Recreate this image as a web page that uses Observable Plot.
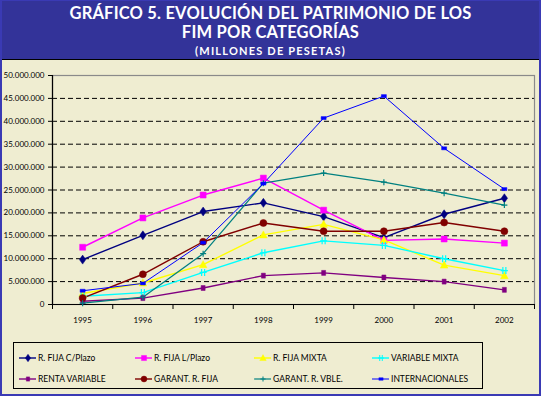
<!DOCTYPE html>
<html><head><meta charset="utf-8">
<script src="https://cdn.jsdelivr.net/npm/d3@7"></script>
<script src="https://cdn.jsdelivr.net/npm/@observablehq/plot@0.6"></script>
<style>
html,body{margin:0;padding:0;background:#fff;}
#card{position:relative;width:541px;height:396px;background:#EFEDD1;overflow:hidden;font-family:Lato,"DejaVu Sans",sans-serif;}
#title{position:absolute;left:0;top:0;width:541px;height:59px;background:#333399;border-bottom:1px solid #000;color:#fff;font-weight:bold;}
#title div{position:absolute;left:0;width:541px;text-align:center;line-height:1;}
#t1{top:5px;font-size:16.5px;letter-spacing:0.2px;}
#t2{top:24px;font-size:16.5px;letter-spacing:0.2px;}
#t3{top:45px;font-size:11px;letter-spacing:1.2px;}
#chart{position:absolute;left:0;top:60px;}
#legend{position:absolute;left:13px;top:342px;width:470px;height:47px;box-sizing:border-box;border:1px solid #000;}
#frame{position:absolute;left:0;top:0;width:541px;height:396px;box-sizing:border-box;border:2px solid #3a3ab4;border-top-width:1px;pointer-events:none;}
</style></head>
<body>
<div id="card">
  <div id="title">
    <div id="t1">GRÁFICO 5. EVOLUCIÓN DEL PATRIMONIO DE LOS</div>
    <div id="t2">FIM POR CATEGORÍAS</div>
    <div id="t3">(MILLONES DE PESETAS)</div>
  </div>
  <div id="chart"></div>
  <div id="legend"></div>
  <div id="frame"></div>
</div>
<script>
// ---- data ----
const years = [1995, 1996, 1997, 1998, 1999, 2000, 2001, 2002];
const seriesNames = ["R. FIJA C/Plazo", "R. FIJA L/Plazo", "R. FIJA MIXTA", "VARIABLE MIXTA",
                     "RENTA VARIABLE", "GARANT. R. FIJA", "GARANT. R. VBLE.", "INTERNACIONALES"];
const rFijaCPlazo    = [9800000, 15100000, 20300000, 22200000, 19200000, 14600000, 19700000, 23200000];
const rFijaLPlazo    = [12500000, 18900000, 23900000, 27600000, 20600000, 14000000, 14300000, 13400000];
const rFijaMixta     = [2400000, 4700000, 8700000, 15200000, 17500000, 14100000, 8600000, 6300000];
const variableMixta  = [1800000, 2600000, 7000000, 11300000, 13900000, 12900000, 10000000, 7400000];
const rentaVariable  = [700000, 1400000, 3600000, 6300000, 6900000, 5900000, 5000000, 3200000];
const garantRFija    = [1400000, 6600000, 13700000, 17800000, 16000000, 16000000, 17900000, 16000000];
const garantRVble    = [300000, 1600000, 11100000, 26500000, 28700000, 26700000, 24300000, 21700000];
const internacionales= [3000000, 4600000, 13500000, 26400000, 40700000, 45500000, 34100000, 25200000];
const yTicks = [0, 5000000, 10000000, 15000000, 20000000, 25000000, 30000000, 35000000, 40000000, 45000000, 50000000];

const seriesValues = [rFijaCPlazo, rFijaLPlazo, rFijaMixta, variableMixta, rentaVariable, garantRFija, garantRVble, internacionales];

// ---- styles ----
const dashSym = {draw(c){ c.rect(-2.5,-1.5,5,3); }};
const rectSym = {draw(c){ c.rect(-2,-2.5,4,5); }};
const dblSym  = {draw(c){ c.moveTo(-1.5,-3.5); c.lineTo(-1.5,3.5); c.moveTo(1.5,-3.5); c.lineTo(1.5,3.5); c.moveTo(-3.5,0); c.lineTo(3.5,0); }};
const plusSym = {draw(c){ c.moveTo(-3,0); c.lineTo(3,0); c.moveTo(0,-3); c.lineTo(0,3); }};
const diaSym  = {draw(c){ c.moveTo(0,-4.5); c.lineTo(3.2,0); c.lineTo(0,4.5); c.lineTo(-3.2,0); c.closePath(); }};
const sqSym   = {draw(c){ c.rect(-3,-3,6,6); }};
const triSym  = {draw(c){ c.moveTo(0,-4); c.lineTo(3.8,3); c.lineTo(-3.8,3); c.closePath(); }};
const circSym = {draw(c){ c.moveTo(3.5,0); c.arc(0,0,3.5,0,2*Math.PI); }};

const styles = [
  {color:"#000080", width:1.4, sym:diaSym, filled:true},
  {color:"#FF00FF", width:1.4, sym:sqSym, filled:true},
  {color:"#FFFF00", width:1.4, sym:triSym, filled:true},
  {color:"#00FFFF", width:1.4, sym:dblSym, filled:false},
  {color:"#800080", width:1.4, sym:rectSym, filled:true},
  {color:"#800000", width:1.4, sym:circSym, filled:true},
  {color:"#008080", width:1.2, sym:plusSym, filled:false},
  {color:"#0000FF", width:1, sym:dashSym, filled:true}
];

const rows = seriesNames.map((s, i) => years.map((y, j) => ({series: s, year: y, value: seriesValues[i][j]})));

const loc = d3.formatLocale({decimal: ",", thousands: ".", grouping: [3], currency: ["", ""]});
const fmt = loc.format(",d");
const bounds = d3.range(years.length + 1).map(i => years[0] - 0.5 + i);

const marks = [
  Plot.ruleY(yTicks.slice(1, -1), {stroke: "#000", strokeDasharray: "5,3", strokeWidth: 1}),
  Plot.frame({stroke: "#8a8a8a", strokeWidth: 1.2}),
  Plot.ruleX([bounds[0]], {stroke: "#000", strokeWidth: 1.2}),
  Plot.ruleY([0], {stroke: "#000", strokeWidth: 1.2}),
  Plot.axisY({ticks: yTicks, tickFormat: fmt, tickSize: 4, tickPadding: 4, label: null, stroke: "#000"}),
  Plot.axisX({ticks: years, tickFormat: d => String(d), tickSize: 0, tickPadding: 13, label: null}),
  Plot.axisX({ticks: bounds, tickFormat: () => "", tickSize: 5, label: null, stroke: "#000"})
];
rows.forEach((data, i) => {
  const st = styles[i];
  marks.push(Plot.line(data, {x: "year", y: "value", stroke: st.color, strokeWidth: st.width}));
});
rows.forEach((data, i) => {
  const st = styles[i];
  marks.push(Plot.dot(data, {x: "year", y: "value", symbol: st.sym, r: 3,
    fill: st.filled ? st.color : "none", stroke: st.color, strokeWidth: st.filled ? 0.5 : 1.2}));
});

const chart = Plot.plot({
  width: 541, height: 275,
  marginLeft: 52, marginRight: 7, marginTop: 15, marginBottom: 31,
  style: {background: "transparent", fontSize: "8px", fontFamily: "Lato, sans-serif", color: "#000"},
  x: {type: "linear", domain: [bounds[0], bounds[bounds.length - 1]]},
  y: {type: "linear", domain: [0, 50000000]},
  marks
});
document.getElementById("chart").appendChild(chart);

// ---- legend ----
const lg = d3.select("#legend").append("svg").attr("width", 468).attr("height", 45)
  .style("position", "absolute").style("left", "0").style("top", "0");
const colX = [5, 121, 240, 358];
const rowY = [15, 36];
seriesNames.forEach((name, i) => {
  const st = styles[i];
  const x = colX[i % 4], y = rowY[Math.floor(i / 4)];
  const g = lg.append("g");
  g.append("line").attr("x1", x).attr("x2", x + 17).attr("y1", y).attr("y2", y)
    .attr("stroke", st.color).attr("stroke-width", st.width);
  const p = d3.path(); st.sym.draw(p);
  g.append("path").attr("d", p.toString()).attr("transform", `translate(${x + 9},${y}) scale(0.85)`)
    .attr("fill", st.filled ? st.color : "none").attr("stroke", st.color).attr("stroke-width", st.filled ? 0.5 : 1.2);
  g.append("text").attr("x", x + 19).attr("y", y).attr("dy", "0.35em")
    .attr("font-size", "8.5px").attr("font-family", "Lato, sans-serif").attr("fill", "#000").text(name);
});
</script>
</body></html>
